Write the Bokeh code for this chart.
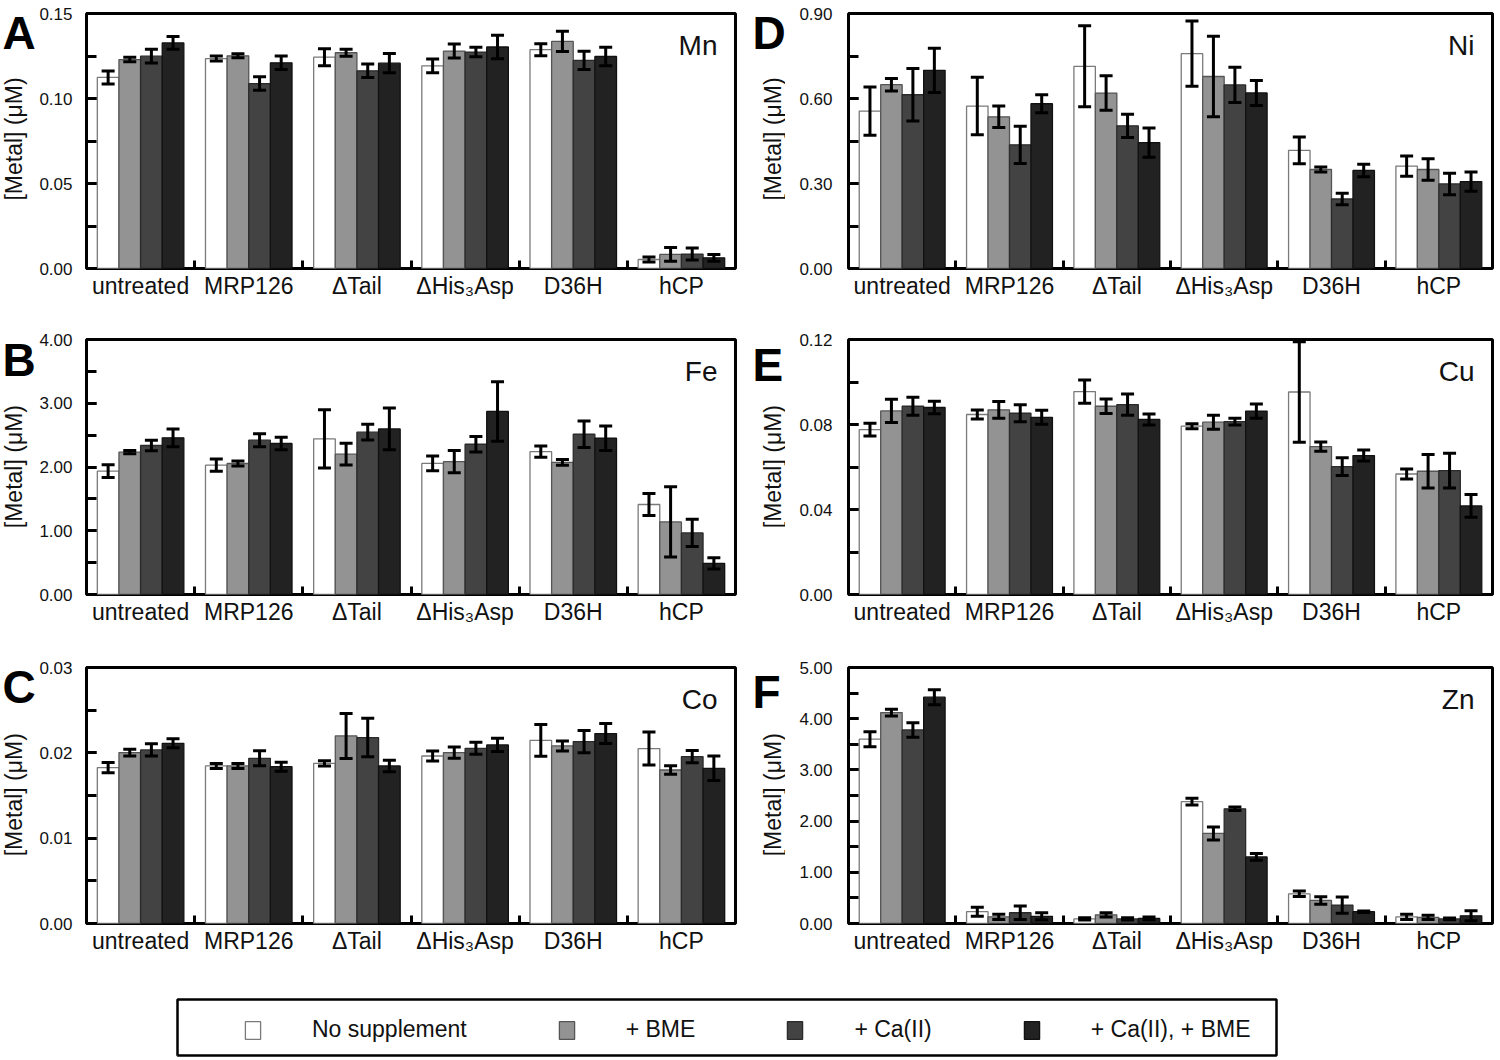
import math
from bokeh.plotting import figure
from bokeh.models import (Range1d, FixedTicker, ColumnDataSource, Whisker, TeeHead,
                          Label, Legend, LegendItem, Spacer, NumeralTickFormatter)
from bokeh.core.properties import value
from bokeh.layouts import column, row
from bokeh.embed import file_html
from bokeh.resources import INLINE

FONT = "Liberation Sans"

GROUPS = ["untreated", "MRP126", "ΔTail", "ΔHis₃Asp", "D36H", "hCP"]
TREATMENTS = ["No supplement", "+ BME", "+ Ca(II)", "+ Ca(II), + BME"]
FILLS = ["#ffffff", "#939393", "#434343", "#222222"]
LINES = ["#7a7a7a", "#555555", "#2a2a2a", "#111111"]
YLABEL = "[Metal] (μM)"

# rows = treatments (No supplement, +BME, +Ca, +Ca+BME); columns = GROUPS
MN_MEAN = [[0.1124, 0.1235, 0.1243, 0.1192, 0.1287, 0.0053],
           [0.1229, 0.1251, 0.1269, 0.1279, 0.1336, 0.0083],
           [0.1249, 0.1088, 0.1163, 0.1273, 0.1224, 0.0085],
           [0.1327, 0.1210, 0.1208, 0.1303, 0.1247, 0.0063]]
MN_ERR = [[0.0038, 0.0015, 0.0050, 0.0040, 0.0035, 0.0015],
          [0.0013, 0.0012, 0.0020, 0.0041, 0.0060, 0.0040],
          [0.0040, 0.0040, 0.0040, 0.0028, 0.0054, 0.0035],
          [0.0037, 0.0040, 0.0057, 0.0069, 0.0054, 0.0020]]

FE_MEAN = [[1.935, 2.029, 2.442, 2.058, 2.241, 1.412],
           [2.233, 2.055, 2.201, 2.084, 2.073, 1.139],
           [2.337, 2.421, 2.546, 2.357, 2.514, 0.966],
           [2.457, 2.369, 2.598, 2.871, 2.451, 0.488]]
FE_ERR = [[0.099, 0.097, 0.457, 0.115, 0.089, 0.171],
          [0.026, 0.040, 0.170, 0.173, 0.045, 0.551],
          [0.081, 0.102, 0.123, 0.123, 0.207, 0.215],
          [0.141, 0.097, 0.328, 0.467, 0.194, 0.087]]

CO_MEAN = [[0.01827, 0.01846, 0.01877, 0.01963, 0.02147, 0.02050],
           [0.02003, 0.01846, 0.02198, 0.02003, 0.02081, 0.01799],
           [0.02034, 0.01936, 0.02179, 0.02053, 0.02132, 0.01956],
           [0.02112, 0.01838, 0.01846, 0.02093, 0.02226, 0.01819]]
CO_ERR = [[0.00059, 0.00030, 0.00030, 0.00059, 0.00186, 0.00194],
          [0.00040, 0.00030, 0.00264, 0.00066, 0.00059, 0.00049],
          [0.00072, 0.00088, 0.00225, 0.00070, 0.00131, 0.00072],
          [0.00053, 0.00053, 0.00068, 0.00078, 0.00117, 0.00143]]

NI_MEAN = [[0.5556, 0.5732, 0.7136, 0.7583, 0.4170, 0.3614],
           [0.6487, 0.5355, 0.6192, 0.6777, 0.3495, 0.3495],
           [0.6133, 0.4364, 0.5035, 0.6480, 0.2453, 0.2986],
           [0.6995, 0.5815, 0.4443, 0.6197, 0.3460, 0.3069]]
NI_ERR = [[0.0850, 0.1015, 0.1430, 0.1155, 0.0470, 0.0355],
          [0.0220, 0.0380, 0.0610, 0.1420, 0.0090, 0.0380],
          [0.0926, 0.0660, 0.0410, 0.0620, 0.0200, 0.0380],
          [0.0780, 0.0320, 0.0520, 0.0440, 0.0220, 0.0340]]

CU_MEAN = [[0.0776, 0.0847, 0.0955, 0.0792, 0.0953, 0.0567],
           [0.0864, 0.0869, 0.0886, 0.0811, 0.0696, 0.0580],
           [0.0886, 0.0853, 0.0894, 0.0814, 0.0602, 0.0583],
           [0.0880, 0.0834, 0.0824, 0.0863, 0.0654, 0.0417]]
CU_ERR = [[0.0030, 0.0021, 0.0055, 0.0012, 0.0236, 0.0024],
          [0.0055, 0.0039, 0.0034, 0.0033, 0.0022, 0.0079],
          [0.0042, 0.0040, 0.0050, 0.0016, 0.0042, 0.0082],
          [0.0029, 0.0033, 0.0026, 0.0034, 0.0026, 0.0054]]

ZN_MEAN = [[3.60, 0.23, 0.09, 2.38, 0.58, 0.13],
           [4.12, 0.13, 0.17, 1.76, 0.45, 0.12],
           [3.78, 0.21, 0.09, 2.24, 0.36, 0.09],
           [4.42, 0.14, 0.10, 1.30, 0.23, 0.15]]
ZN_ERR = [[0.146, 0.088, 0.020, 0.065, 0.055, 0.050],
          [0.065, 0.050, 0.042, 0.127, 0.072, 0.040],
          [0.140, 0.130, 0.020, 0.033, 0.160, 0.016],
          [0.146, 0.068, 0.026, 0.065, 0.016, 0.098]]

# y axis: (max, major step, minor step)
AXES = {"Mn": (0.15, 0.05, 0.025), "Fe": (4.0, 1.0, 0.5), "Co": (0.03, 0.01, 0.005),
        "Ni": (0.90, 0.30, 0.15), "Cu": (0.12, 0.04, 0.02), "Zn": (5.0, 1.0, 0.5)}

OFFSETS = [-0.3, -0.1, 0.1, 0.3]


def make_panel(metal, means, errs, width, height, left, right, top, bottom, standoff):
    ymax, major, minor = AXES[metal]
    p = figure(width=width, height=height, x_range=Range1d(0, 6), y_range=Range1d(0, ymax),
               output_backend="svg", toolbar_location=None,
               min_border_left=left, min_border_right=right,
               min_border_top=top, min_border_bottom=bottom)
    p.grid.visible = False
    p.outline_line_color = "black"
    p.outline_line_width = 3
    p.outline_line_alpha = 1.0
    fw = width - left - right
    fh = height - top - bottom
    ppu = fw / 6.0

    for k in range(4):
        xs = [g + 0.5 + OFFSETS[k] for g in range(6)]
        up = [m + e for m, e in zip(means[k], errs[k])]
        lo = [m - e for m, e in zip(means[k], errs[k])]
        src = ColumnDataSource(dict(x=xs, top=means[k], upper=up, lower=lo))
        p.vbar(x="x", top="top", width=0.2, source=src, fill_color=FILLS[k],
               line_color=LINES[k], line_width=1.3)
        w = Whisker(source=src, base="x", upper="upper", lower="lower",
                    line_color="black", line_width=3, level="overlay",
                    upper_head=TeeHead(size=13, line_width=3, line_color="black"),
                    lower_head=TeeHead(size=13, line_width=3, line_color="black"))
        p.add_layout(w)

    xa = p.xaxis[0]
    xa.ticker = FixedTicker(ticks=[g + 0.5 for g in range(6)], minor_ticks=[1, 2, 3, 4, 5])
    xa.major_label_overrides = {g + 0.5: GROUPS[g] for g in range(6)}
    xa.major_tick_in = 0
    xa.major_tick_out = 0
    xa.minor_tick_in = 8
    xa.minor_tick_out = 0
    xa.minor_tick_line_width = 3
    xa.minor_tick_line_color = "black"
    xa.axis_line_color = None
    xa.major_label_standoff = 4
    xa.major_label_text_font = FONT
    xa.major_label_text_font_size = "23px"
    xa.major_label_text_color = "#111111"

    n_major = int(round(ymax / major))
    n_minor = int(round(ymax / minor))
    ya = p.yaxis[0]
    ya.ticker = FixedTicker(ticks=[round(i * major, 6) for i in range(n_major + 1)],
                            minor_ticks=[round(i * minor, 6) for i in range(n_minor + 1)])
    ya.formatter = NumeralTickFormatter(format="0.00")
    ya.major_tick_in = 10
    ya.major_tick_out = 0
    ya.minor_tick_in = 10
    ya.minor_tick_out = 0
    ya.major_tick_line_width = 3
    ya.minor_tick_line_width = 3
    ya.major_tick_line_color = "black"
    ya.minor_tick_line_color = "black"
    ya.axis_line_color = None
    ya.major_label_standoff = standoff
    ya.major_label_text_font = FONT
    ya.major_label_text_font_size = "17px"
    ya.major_label_text_color = "#111111"

    p.add_layout(Label(x=6 - 18 / ppu, y=ymax * (1 - 32 / fh), text=metal,
                       text_align="right", text_baseline="middle",
                       text_font=FONT, text_font_size="28px", text_color="#111111"))
    return p


def make_side(letter, width, height, top, bottom, letter_x, letter_dy, label_x):
    """Narrow strip left of a panel: panel letter and rotated y-axis title."""
    s = figure(width=width, height=height, x_range=Range1d(0, width), y_range=Range1d(0, height),
               output_backend="svg", toolbar_location=None, min_border=0,
               x_axis_location=None, y_axis_location=None)
    s.grid.visible = False
    s.outline_line_color = None
    fh = height - top - bottom
    s.text(x=[letter_x], y=[height - top - letter_dy], text=[letter], text_align="left",
           text_baseline="middle", text_font=value(FONT), text_font_size="46px",
           text_font_style="bold", text_color="black")
    s.text(x=[label_x], y=[height - top - fh / 2 - 17], text=[YLABEL], angle=math.pi / 2,
           text_align="center", text_baseline="middle", text_font=value(FONT),
           text_font_size="23px", text_color="#111111")
    return s


# column geometry (px)
SLW, LW, LL, LR = 36, 709, 50, 10      # left: frame at 86..735
SRW, RW, RL, RR = 40, 711, 63, 4       # right: frame at 848..1492

ROWS = [(("A", "Mn", MN_MEAN, MN_ERR, 11), ("D", "Ni", NI_MEAN, NI_ERR, 11), 320, 13, 52),
        (("B", "Fe", FE_MEAN, FE_ERR, 7), ("E", "Cu", CU_MEAN, CU_ERR, 14), 328, 19, 54),
        (("C", "Co", CO_MEAN, CO_ERR, 6), ("F", "Zn", ZN_MEAN, ZN_ERR, 12), 330, 19, 55)]

rows = []
for lp, rp, h, t, b in ROWS:
    sl = make_side(lp[0], SLW, h, t, b, 2, lp[4], 13)
    pl = make_panel(lp[1], lp[2], lp[3], LW, h, LL, LR, t, b, 14)
    sr = make_side(rp[0], SRW, h, t, b, 7, rp[4], 27)
    pr = make_panel(rp[1], rp[2], rp[3], RW, h, RL, RR, t, b, 16)
    rows.append(row(sl, pl, sr, pr))

# legend box
leg = figure(width=1103, height=60, x_range=Range1d(0, 1), y_range=Range1d(0, 1),
             output_backend="svg", toolbar_location=None, min_border=2,
             x_axis_location=None, y_axis_location=None)
leg.grid.visible = False
leg.outline_line_color = "black"
leg.outline_line_width = 2.5
leg.outline_line_alpha = 1.0
items = []
for k in range(4):
    # dummy renderers placed outside the visible range; only their legend swatches show
    r = leg.vbar(x=[-5], top=[-5], bottom=[-6], width=0.1, fill_color=FILLS[k],
                 line_color=LINES[k], line_width=1.3)
    items.append(LegendItem(label=TREATMENTS[k], renderers=[r]))
lg = Legend(items=items, orientation="horizontal", location=(66, 12),
            glyph_width=19, glyph_height=22, label_standoff=50, spacing=90,
            padding=0, margin=0, border_line_color=None, background_fill_alpha=0,
            label_text_font=FONT, label_text_font_size="23px", label_text_color="#111111")
leg.add_layout(lg)

layout = column(*rows, Spacer(height=19), row(Spacer(width=175), leg))

open("out.html", "w").write(file_html(layout, INLINE))
